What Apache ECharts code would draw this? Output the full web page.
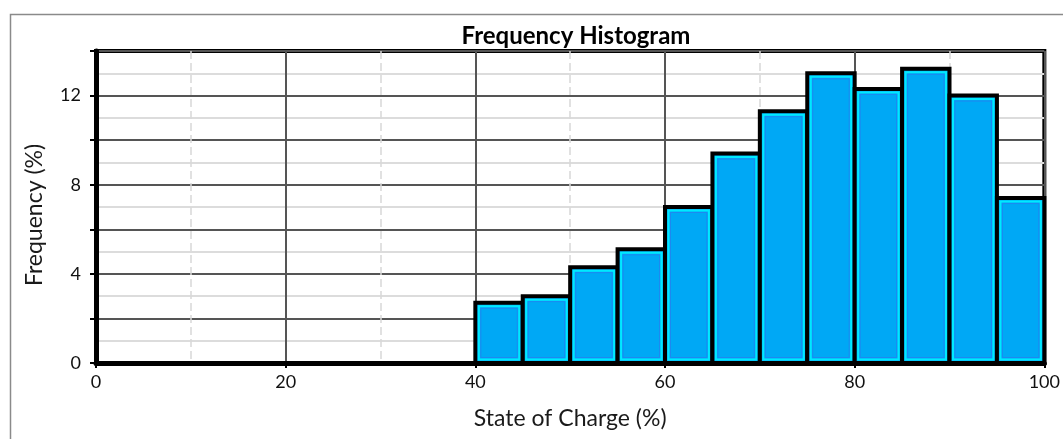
<!DOCTYPE html>
<html>
<head>
<meta charset="utf-8">
<script src="https://cdn.jsdelivr.net/npm/echarts@6/dist/echarts.min.js"></script>
<style>
  html, body { margin: 0; padding: 0; background: #fff; }
  #chart { width: 1063px; height: 439px; }
</style>
</head>
<body>
<div id="chart"></div>
<script>
// bins of state of charge (%) and their frequency (%)
var binStart = [40, 45, 50, 55, 60, 65, 70, 75, 80, 85, 90, 95]
var binEnd = [45, 50, 55, 60, 65, 70, 75, 80, 85, 90, 95, 100]
var freq = [2.7, 3.0, 4.3, 5.1, 7.0, 9.4, 11.3, 13.0, 12.3, 13.2, 12.0, 7.4]
var yLabels = [0, 4, 8, 12]

var chart = echarts.init(document.getElementById('chart'))
var font = 'Lato, "Open Sans", sans-serif'

var data = binStart.map(function (s, i) {
  return [s, binEnd[i], freq[i]]
})

function renderBar (params, api) {
  var p0 = api.coord([api.value(0), 0])
  var p1 = api.coord([api.value(1), api.value(2)])
  var x = p0[0], y = p1[1], w = p1[0] - p0[0], h = p0[1] - p1[1]
  return {
    type: 'group',
    children: [{
      type: 'rect',
      shape: { x: x, y: y, width: w, height: h },
      style: { fill: '#00a8f5', stroke: '#000', lineWidth: 4 }
    }, {
      type: 'rect',
      shape: { x: x + 3.5, y: y + 3.5, width: w - 7, height: h - 7 },
      style: { fill: 'none', stroke: '#00eaff', lineWidth: 2 }
    }, {
      type: 'rect',
      shape: { x: x + 5.5, y: y + 5.5, width: w - 11, height: h - 11 },
      style: { fill: 'none', stroke: '#1e88f0', lineWidth: 1 }
    }]
  }
}

var option = {
  backgroundColor: '#fff',
  animation: false,
  title: {
    text: 'Frequency Histogram',
    left: 571,
    textAlign: 'center',
    top: 19,
    textStyle: { fontFamily: font, fontWeight: 'bold', fontSize: 24, color: '#000' }
  },
  grid: {
    left: 96,
    top: 51,
    right: 16,
    bottom: 76,
    show: true,
    borderColor: '#000',
    borderWidth: 4
  },
  xAxis: {
    type: 'value',
    min: 0,
    max: 100,
    interval: 20,
    name: 'State of Charge (%)',
    nameLocation: 'middle',
    nameGap: 44,
    nameTextStyle: { fontFamily: font, fontSize: 23, color: '#1a1a1a' },
    axisLine: { show: true, lineStyle: { color: '#000', width: 5 } },
    axisTick: { show: true, length: 5, lineStyle: { color: '#000', width: 2 } },
    axisLabel: { fontFamily: font, fontSize: 18, color: '#111', margin: 10 },
    splitLine: { show: true, lineStyle: { color: '#555', width: 2 } },
    minorTick: { show: false, splitNumber: 2 },
    minorSplitLine: { show: true, lineStyle: { color: '#d8d8d8', width: 1.5, type: [8, 4] } }
  },
  yAxis: {
    type: 'value',
    min: 0,
    max: 14,
    interval: 2,
    axisLine: { show: true, lineStyle: { color: '#000', width: 5 } },
    axisTick: { show: true, length: 6, lineStyle: { color: '#000', width: 2 } },
    axisLabel: {
      fontFamily: font,
      fontSize: 18,
      color: '#111',
      margin: 15,
      formatter: function (v) {
        return yLabels.indexOf(v) >= 0 ? String(v) : ''
      }
    },
    splitLine: { show: true, lineStyle: { color: '#555', width: 2 } },
    minorTick: { show: false, splitNumber: 2 },
    minorSplitLine: { show: true, lineStyle: { color: '#dcdcdc', width: 2 } }
  },
  graphic: [{
    type: 'polyline',
    silent: true,
    z: -1,
    shape: { points: [[10.5, 439], [10.5, 14.5], [1063, 14.5]] },
    style: { fill: 'none', stroke: '#8a8a8a', lineWidth: 1.5 }
  }, {
    type: 'text',
    silent: true,
    x: 35,
    y: 215,
    rotation: Math.PI / 2,
    style: {
      text: 'Frequency (%)',
      fontFamily: font,
      fontSize: 23,
      fill: '#1a1a1a',
      align: 'center',
      verticalAlign: 'middle'
    }
  }],
  series: [{
    type: 'custom',
    renderItem: renderBar,
    encode: { x: [0, 1], y: 2 },
    data: data,
    z: 5
  }]
}

chart.setOption(option)
window.addEventListener('resize', function () {
  chart.resize()
})
</script>
</body>
</html>
